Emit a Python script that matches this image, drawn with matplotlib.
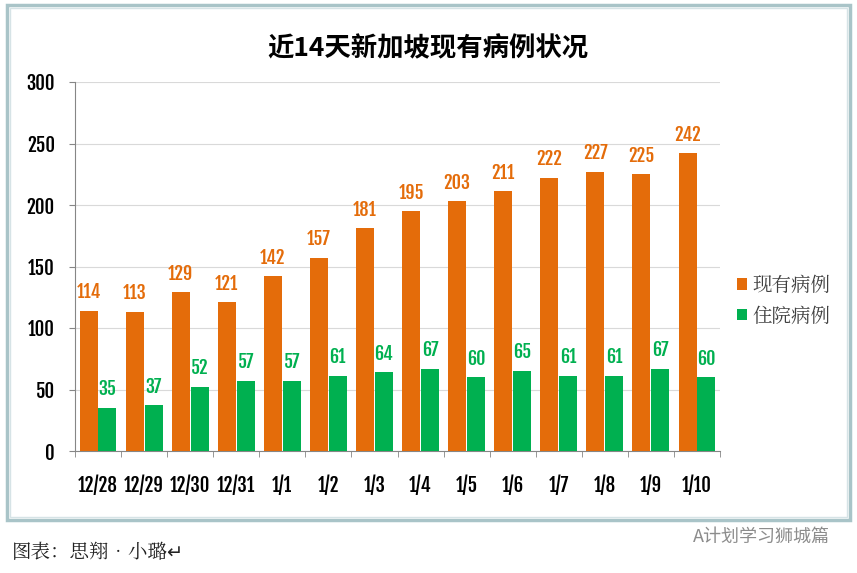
import matplotlib
matplotlib.use("Agg")
import matplotlib.pyplot as plt
from matplotlib.patches import Rectangle
import numpy as np

dates = ["12/28", "12/29", "12/30", "12/31", "1/1", "1/2", "1/3",
         "1/4", "1/5", "1/6", "1/7", "1/8", "1/9", "1/10"]
current = [114, 113, 129, 121, 142, 157, 181, 195, 203, 211, 222, 227, 225, 242]
hospital = [35, 37, 52, 57, 57, 61, 64, 67, 60, 65, 61, 61, 67, 60]
series_names = ["现有病例", "住院病例"]
y_ticks = [0, 50, 100, 150, 200, 250, 300]

ORANGE = "#E46C0A"
GREEN = "#00B050"

num_font = ["Fjalla One", "Roboto Condensed", "DejaVu Sans"]
cjk = ["Noto Sans CJK SC", "DejaVu Sans"]
serif = ["Noto Serif CJK SC", "Noto Sans CJK SC", "DejaVu Sans"]

fig = plt.figure(figsize=(8.57, 5.73), dpi=100)
ax = fig.add_axes([75 / 857, 1 - 451 / 573, 645 / 857, 369 / 573])

x = np.arange(len(dates))
w = 0.39
b1 = ax.bar(x - w / 2 - 0.01, current, w, color=ORANGE, label=series_names[0], zorder=3)
b2 = ax.bar(x + w / 2 + 0.01, hospital, w, color=GREEN, label=series_names[1], zorder=3)

for rect, v in zip(b1, current):
    ax.text(rect.get_x() + rect.get_width() / 2, v + 7, str(v), ha="center", va="bottom",
            color=ORANGE, fontsize=13, family=num_font)
for rect, v in zip(b2, hospital):
    ax.text(rect.get_x() + rect.get_width() / 2, v + 7, str(v), ha="center", va="bottom",
            color=GREEN, fontsize=13, family=num_font)

ax.set_xlim(-0.5, len(dates) - 0.5)
ax.set_ylim(0, 300)
ax.set_yticks(y_ticks)
ax.set_yticklabels([str(t) for t in y_ticks], family=num_font, fontsize=13.5)
ax.set_xticks(x)
ax.set_xticklabels(dates, family=num_font, fontsize=13.5)
ax.set_xticks(np.arange(len(dates) + 1) - 0.5, minor=True)
ax.tick_params(axis="x", which="major", length=0, pad=17)
ax.tick_params(axis="x", which="minor", length=4.5, color="#868686")
ax.tick_params(axis="y", length=4.5, color="#868686", pad=10)
ax.grid(axis="y", color="#D9D9D9", linewidth=0.8, zorder=0)
for s in ["top", "right"]:
    ax.spines[s].set_visible(False)
ax.spines["left"].set_color("#868686")
ax.spines["bottom"].set_color("#868686")

fig.text(428 / 857, 1 - 49 / 573, "近14天新加坡现有病例状况", ha="center", va="center",
         fontsize=19, fontweight="bold", family=cjk)

leg = fig.legend(handles=[b1, b2], labels=series_names, loc="upper left",
                 bbox_to_anchor=(719 / 857, 1 - 258 / 573), frameon=False,
                 prop={"family": serif, "size": 14}, handlelength=0.55, handleheight=0.55,
                 handletextpad=0.25, labelspacing=0.55)
for t in leg.get_texts():
    t.set_color("#404040")

# chart frame
fig.add_artist(Rectangle((7 / 857, 1 - 520 / 573), 843 / 857, 515 / 573,
                         transform=fig.transFigure, fill=False,
                         edgecolor="#A9C4C8", linewidth=2.5))
fig.add_artist(Rectangle((10 / 857, 1 - 517 / 573), 837 / 857, 509 / 573,
                         transform=fig.transFigure, fill=False,
                         edgecolor="#D6E3E6", linewidth=1))

fig.text(12 / 857, 1 - 553 / 573, "图表：思翔•小璐↵", ha="left", va="center",
         fontsize=14, family=serif, color="#222222")
fig.text(830 / 857, 1 - 537 / 573, "A计划学习狮城篇", ha="right", va="center",
         fontsize=13, family=cjk, color="#8C8C8C")

fig.savefig("out.png", dpi=100)
